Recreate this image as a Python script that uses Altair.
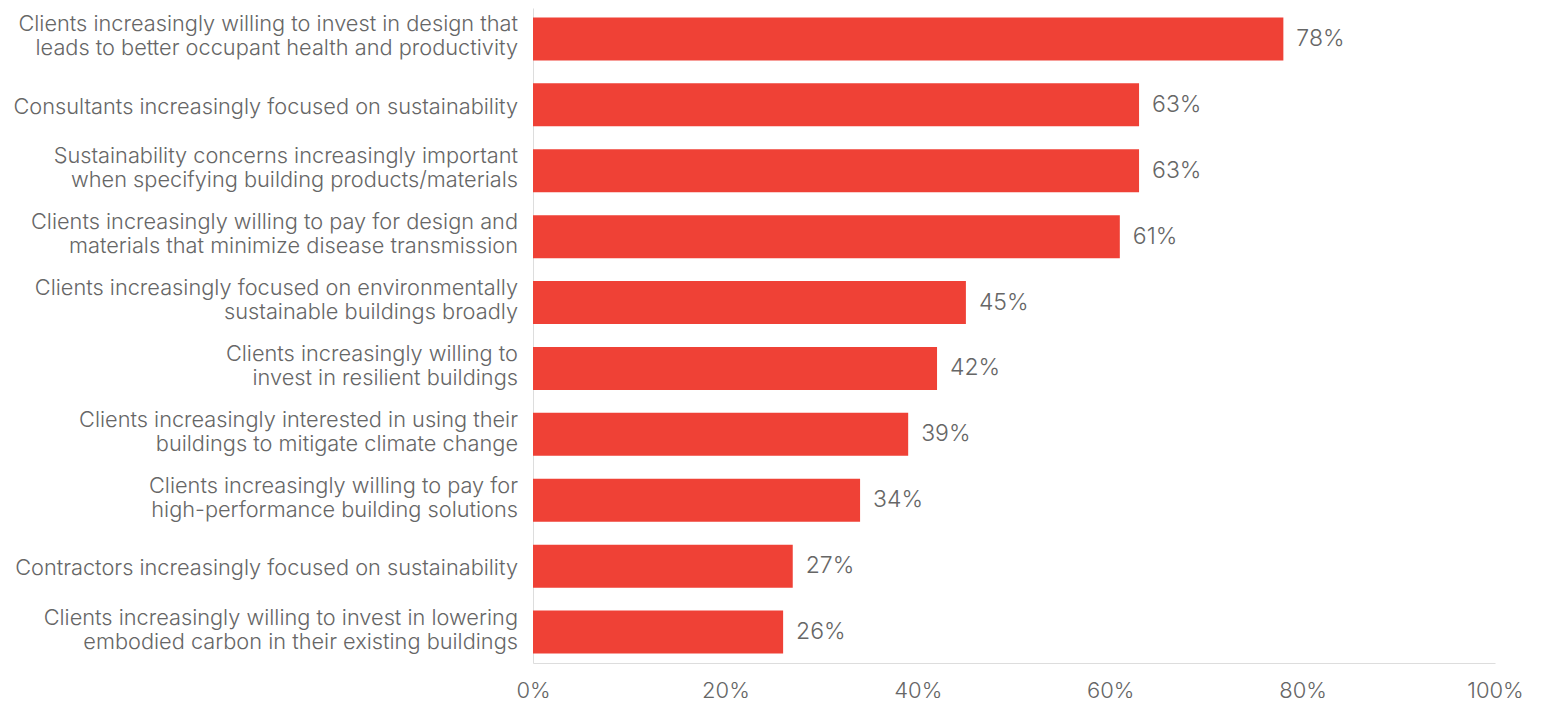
import altair as alt
import pandas as pd

categories = [
    "Clients increasingly willing to invest in design that|leads to better occupant health and productivity",
    "Consultants increasingly focused on sustainability",
    "Sustainability concerns increasingly important|when specifying building products/materials",
    "Clients increasingly willing to pay for design and|materials that minimize disease transmission",
    "Clients increasingly focused on environmentally|sustainable buildings broadly",
    "Clients increasingly willing to|invest in resilient buildings ",
    "Clients increasingly interested in using their|buildings to mitigate climate change",
    "Clients increasingly willing to pay for|high-performance building solutions",
    "Contractors increasingly focused on sustainability",
    "Clients increasingly willing to invest in lowering|embodied carbon in their existing buildings",
]
values = [78, 63, 63, 61, 45, 42, 39, 34, 27, 26]
x_ticks = [0, 20, 40, 60, 80, 100]

df = pd.DataFrame({"cat": categories, "val": values})
df["lab"] = df["val"].astype(str) + "%"
parts = df["cat"].str.split("|")
df["l1"] = parts.str[0]
df["l2"] = parts.apply(lambda p: p[1] if len(p) > 1 else "")
df["nlines"] = parts.apply(len)

FONT = "Inter"
GRAY = "#666666"
ORDER = categories

y_enc = alt.Y(
    "cat:N",
    sort=ORDER,
    scale=alt.Scale(paddingInner=0.347, paddingOuter=0.143),
    axis=alt.Axis(
        title=None, ticks=False, labels=False,
        domainColor="#dddddd", domainWidth=1,
    ),
)

x_enc = alt.X(
    "val:Q",
    scale=alt.Scale(domain=[0, 100]),
    axis=alt.Axis(
        title=None,
        values=x_ticks,
        ticks=False,
        grid=False,
        labelExpr="datum.value + '%'",
        labelFont=FONT,
        labelFontSize=22,
        labelFontWeight=300,
        labelColor=GRAY,
        labelPadding=17,
        labelFlush=False,
        labelOverlap=False,
        domainColor="#dddddd",
        domainWidth=1,
    ),
)

base = alt.Chart(df)
bars = base.mark_bar(color="#EF4136").encode(x=x_enc, y=y_enc)
values_text = base.mark_text(
    align="left", baseline="middle", dx=13, font=FONT, fontSize=23,
    fontWeight=300, color=GRAY
).encode(x="val:Q", y=alt.Y("cat:N", sort=ORDER), text="lab:N")

def cat_text(field, dy, cond):
    return base.transform_filter(cond).mark_text(
        align="right", baseline="middle", dy=dy, font=FONT, fontSize=21.75,
        fontWeight=300, color=GRAY
    ).encode(x=alt.value(-15), y=alt.Y("cat:N", sort=ORDER), text=f"{field}:N")

single = cat_text("l1", 2, "datum.nlines == 1")
first = cat_text("l1", -14.5, "datum.nlines == 2")
second = cat_text("l2", 9.5, "datum.nlines == 2")

chart = (bars + values_text + single + first + second).properties(
    width=962,
    height=655,
    autosize=alt.AutoSizeParams(type="none"),
    padding={"left": 525, "top": 0, "right": 50, "bottom": 42},
).configure_view(stroke=None)

chart.save("out.html", embed_options={"renderer": "svg", "actions": False})
